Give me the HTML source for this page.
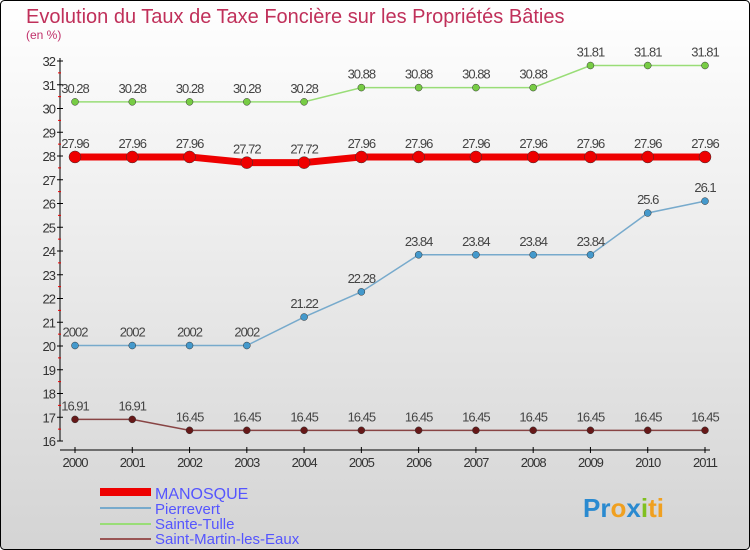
<!DOCTYPE html>
<html><head><meta charset="utf-8"><style>
body{margin:0}
#c{width:750px;height:550px;position:relative;overflow:hidden;font-family:"Liberation Sans",sans-serif}
</style></head><body>
<div id="c">
<svg width="750" height="550" xmlns="http://www.w3.org/2000/svg" id="svg">
<defs><linearGradient id="bg" x1="0" y1="0" x2="0" y2="1"><stop offset="0" stop-color="#ffffff"/><stop offset="1" stop-color="#d4d4d4"/></linearGradient></defs>
<rect x="0.5" y="0.5" width="749" height="549" rx="4" fill="url(#bg)" stroke="#000"/>
<text x="26" y="23" font-size="20" fill="#c0305a">Evolution du Taux de Taxe Foncière sur les Propriétés Bâties</text>
<text x="26" y="39" font-size="12" fill="#c0306a">(en %)</text>
<g id="axes"></g><g id="series"></g>
<g>
<rect x="100" y="488" width="51" height="8" fill="#ee0000"/>
<text x="155" y="499" font-size="16" fill="#5555ff">MANOSQUE</text>
<rect x="100" y="507" width="51" height="2" fill="#77aacc"/>
<text x="155" y="514" font-size="15" fill="#5555ff">Pierrevert</text>
<rect x="100" y="523" width="51" height="2" fill="#99dd77"/>
<text x="155" y="529" font-size="15" fill="#5555ff">Sainte-Tulle</text>
<rect x="100" y="538" width="51" height="2" fill="#995555"/>
<text x="155" y="544" font-size="15" fill="#5555ff">Saint-Martin-les-Eaux</text>
</g>
<text x="583" y="517" font-size="26" font-weight="bold"><tspan fill="#2a8ad0">Pr</tspan><tspan fill="#f0a020">o</tspan><tspan fill="#2a8ad0">x</tspan><tspan fill="#80c020">i</tspan><tspan fill="#f0a020">ti</tspan></text>
</svg></div>
<script>
const years=["2000","2001","2002","2003","2004","2005","2006","2007","2008","2009","2010","2011"];
const yTicks=[16,17,18,19,20,21,22,23,24,25,26,27,28,29,30,31,32];
const manosque=[27.96,27.96,27.96,27.72,27.72,27.96,27.96,27.96,27.96,27.96,27.96,27.96];
const pierrevert=[20.02,20.02,20.02,20.02,21.22,22.28,23.84,23.84,23.84,23.84,25.6,26.1];
const sainteTulle=[30.28,30.28,30.28,30.28,30.28,30.88,30.88,30.88,30.88,31.81,31.81,31.81];
const saintMartin=[16.91,16.91,16.45,16.45,16.45,16.45,16.45,16.45,16.45,16.45,16.45,16.45];
const manosqueLabels=["27.96","27.96","27.96","27.72","27.72","27.96","27.96","27.96","27.96","27.96","27.96","27.96"];
const pierrevertLabels=["2002","2002","2002","2002","21.22","22.28","23.84","23.84","23.84","23.84","25.6","26.1"];
const sainteTulleLabels=["30.28","30.28","30.28","30.28","30.28","30.88","30.88","30.88","30.88","31.81","31.81","31.81"];
const saintMartinLabels=["16.91","16.91","16.45","16.45","16.45","16.45","16.45","16.45","16.45","16.45","16.45","16.45"];
const NS="http://www.w3.org/2000/svg";
const X=i=>75+i*(630/11);
const Y=v=>441-(v-16)*23.75;
function mk(tag,attrs,parent,text){const e=document.createElementNS(NS,tag);for(const k in attrs)e.setAttribute(k,attrs[k]);if(text!==undefined)e.textContent=text;parent.appendChild(e);return e;}
const ax=document.getElementById('axes');
let l=mk('line',{x1:60,y1:Y(32)-3,x2:60,y2:Y(16),stroke:'#000'},ax);


l=mk('line',{x1:60,y1:450,x2:710,y2:450,stroke:'#000'},ax);


yTicks.forEach(v=>{
  mk('line',{x1:57,y1:Y(v),x2:63,y2:Y(v),stroke:'#000'},ax);
  if(v<32)mk('line',{x1:58,y1:Y(v+0.5),x2:61,y2:Y(v+0.5),stroke:'#e00'},ax);
  const t=mk('text',{x:55,y:Y(v)+5,'font-size':13,'text-anchor':'end',fill:'#333','letter-spacing':'-1'},ax,String(v));
  
  
});
years.forEach((y,i)=>{
  mk('line',{x1:X(i),y1:447,x2:X(i),y2:453,stroke:'#000'},ax);
  const t=mk('text',{x:X(i),y:467,'font-size':13,'text-anchor':'middle',fill:'#333','letter-spacing':'-1'},ax,y);
  
  
});
const sg=document.getElementById('series');
function draw(vals,labels,color,width,r,dot,name){
  const g=mk('g',{},sg);
  
  
  mk('polyline',{points:vals.map((v,i)=>X(i)+','+Y(v)).join(' '),fill:'none',stroke:color,'stroke-width':width},g);
  vals.forEach((v,i)=>{
    const c=mk('circle',{cx:X(i),cy:Y(v),r:r,fill:dot,stroke:'#333','stroke-width':0.5},g);
    
    
    const t=mk('text',{x:X(i),y:Y(v)-9,'font-size':13,'text-anchor':'middle',fill:'#444','letter-spacing':'-1'},g,labels[i]);
    
    
  });
}
draw(sainteTulle,sainteTulleLabels,'#99dd77',1.5,3.5,'#77cc44','sainte-tulle');
draw(pierrevert,pierrevertLabels,'#77aacc',1.5,3.5,'#4499cc','pierrevert');
draw(saintMartin,saintMartinLabels,'#884444',1.5,3.5,'#661818','saint-martin');
draw(manosque,manosqueLabels,'#ee0000',7,6,'#ee0000','manosque');
</script>
</body></html>
